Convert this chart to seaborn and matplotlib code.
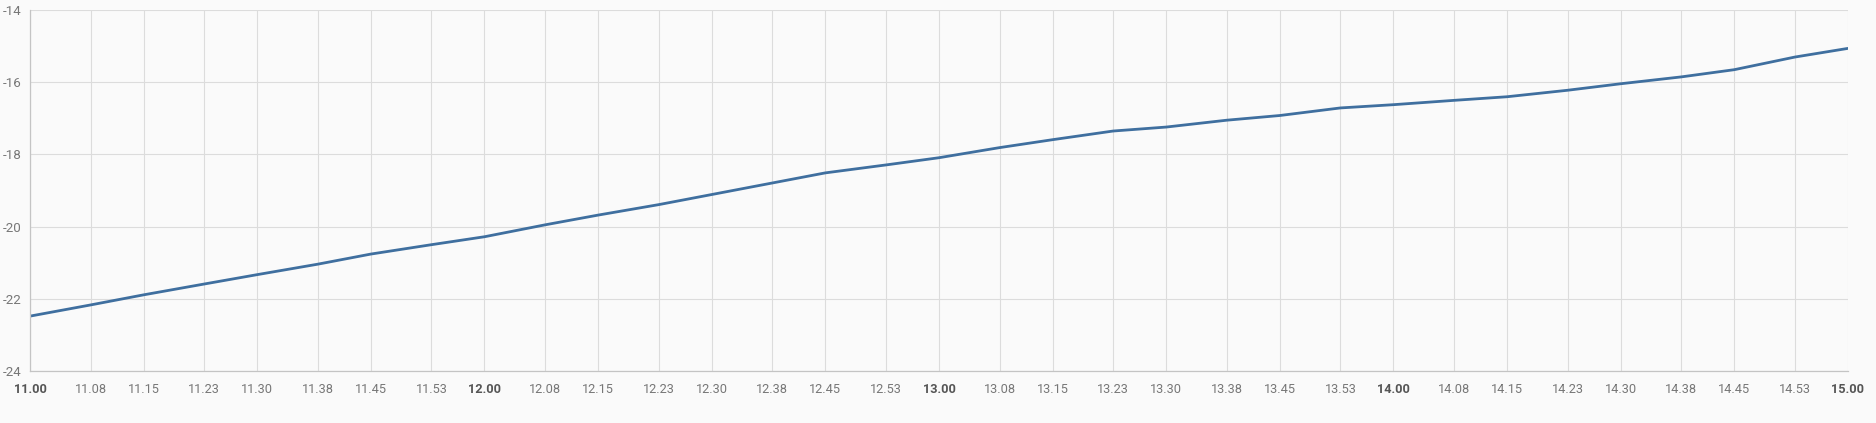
import pandas as pd
import numpy as np
import matplotlib
matplotlib.use("Agg")
import matplotlib.pyplot as plt
import seaborn as sns

# Readings, minutes after 11:00
minutes = [0, 8, 15, 23, 30, 38, 45, 53, 60, 68, 75, 83, 90, 98, 105, 113, 120,
           128, 135, 143, 150, 158, 165, 173, 180, 188, 195, 203, 210, 218, 225, 233, 240]
values = [-22.48, -22.17, -21.89, -21.59, -21.33, -21.04, -20.76, -20.50, -20.28,
          -19.95, -19.68, -19.39, -19.11, -18.79, -18.51, -18.29, -18.09,
          -17.81, -17.59, -17.35, -17.24, -17.05, -16.92, -16.71, -16.62,
          -16.50, -16.40, -16.22, -16.04, -15.85, -15.65, -15.30, -15.06]

tick_labels = ["11.00", "11.08", "11.15", "11.23", "11.30", "11.38", "11.45", "11.53",
               "12.00", "12.08", "12.15", "12.23", "12.30", "12.38", "12.45", "12.53",
               "13.00", "13.08", "13.15", "13.23", "13.30", "13.38", "13.45", "13.53",
               "14.00", "14.08", "14.15", "14.23", "14.30", "14.38", "14.45", "14.53",
               "15.00"]
y_ticks = [-24, -22, -20, -18, -16, -14]

start = pd.Timestamp("2024-01-01 11:00")
df = pd.DataFrame({
    "time": start + pd.to_timedelta(minutes, unit="m"),
    "value": values,
})

sns.set_theme(style="whitegrid")
plt.rcParams["font.family"] = ["Roboto", "DejaVu Sans"]
plt.rcParams["axes.unicode_minus"] = False

bg = "#fafafa"
fig = plt.figure(figsize=(18.76, 4.23), dpi=100, facecolor=bg)
ax = fig.add_axes([0.016, 0.123, 0.969, 0.853])
ax.set_facecolor(bg)

sns.lineplot(data=df, x="time", y="value", ax=ax, color="#3f6f9f", linewidth=2.0)

tick_times = [start + pd.Timedelta(hours=int(t.split(".")[0]) - 11, minutes=int(t.split(".")[1]))
              for t in tick_labels]
ax.set_xticks(tick_times)
ax.set_xticklabels(tick_labels)
ax.set_xlim(tick_times[0], tick_times[-1])
ax.set_yticks(y_ticks)
ax.set_ylim(y_ticks[0], y_ticks[-1])

for lab in ax.get_xticklabels():
    if lab.get_text().endswith(".00"):
        lab.set_fontweight("bold")
        lab.set_color("#555555")
    else:
        lab.set_color("#777777")
for lab in ax.get_yticklabels():
    lab.set_color("#777777")

ax.tick_params(axis="x", labelsize=9.2, length=6, width=0.8, color="#d6d6d6", pad=3)
ax.tick_params(axis="y", labelsize=9.6, length=5, width=0.8, color="#d6d6d6", pad=1)
ax.grid(True, color="#dcdcdc", linewidth=0.8)
ax.set_xlabel("")
ax.set_ylabel("")

for side in ["top", "right"]:
    ax.spines[side].set_visible(False)
for side in ["left", "bottom"]:
    ax.spines[side].set_color("#c4c4c4")
    ax.spines[side].set_linewidth(0.9)

fig.savefig("out.png", dpi=100, facecolor=bg)
